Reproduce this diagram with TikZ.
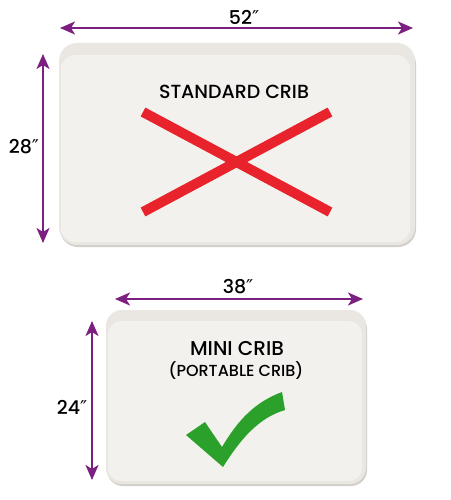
\documentclass[tikz,border=0pt]{standalone}
\usepackage{fontspec}
\setmainfont{Poppins}[UprightFont=* Medium]
\newfontfamily\symfont{DejaVu Sans}
\usetikzlibrary{arrows.meta}
\definecolor{dimpurple}{HTML}{7B1F80}
\definecolor{boxedge}{HTML}{EAE7E3}
\definecolor{boxface}{HTML}{F3F1EE}
\definecolor{boxshadow}{HTML}{D3D0CB}
\definecolor{xred}{HTML}{E8232B}
\definecolor{okgreen}{HTML}{2BA12B}
\tikzset{
  dimline/.style={draw=dimpurple, line width=2.2pt, {Stealth[length=15pt,width=13pt,inset=4pt]}-{Stealth[length=15pt,width=13pt,inset=4pt]}},
  dimlabel/.style={font=\fontsize{19}{19}\selectfont, text=black, inner sep=0pt},
  cribtext/.style={font=\fontsize{19}{19}\selectfont, text=black, inner sep=0pt},
  xbar/.style={draw=xred, line width=10pt, line cap=butt},
}
\newcommand{\dq}{{\symfont\char"2033}}
\begin{document}
\begin{tikzpicture}[x=1pt,y=-1pt]
\useasboundingbox[fill=white] (0,0) rectangle (450,500);
% top crib
\fill[boxshadow,rounded corners=18pt] (60,46) rectangle (416,247);
\fill[boxedge,rounded corners=18pt] (59,43) rectangle (415,245);
\fill[boxface,rounded corners=14pt] (61,55) rectangle (410,242);
% bottom crib
\fill[boxshadow,rounded corners=16pt] (107,313) rectangle (367,486);
\fill[boxedge,rounded corners=16pt] (106,310) rectangle (366,484);
\fill[boxface,rounded corners=13pt] (108,321) rectangle (362,481);
% dimension ends
\coordinate (t1) at (60,28); \coordinate (t2) at (413,28);
\coordinate (l1) at (43,54); \coordinate (l2) at (43,243);
\coordinate (b1) at (115,299); \coordinate (b2) at (363,299);
\coordinate (m1) at (92,321); \coordinate (m2) at (92,480);
\draw[dimline] (t1) -- (t2);
\draw[dimline] (l1) -- (l2);
\draw[dimline] (b1) -- (b2);
\draw[dimline] (m1) -- (m2);
\node[dimlabel] (w52) at (244,17) {52\dq};
\node[dimlabel] (h28) at (24,147) {28\dq};
\node[dimlabel] (w38) at (238,287) {38\dq};
\node[dimlabel] (h24) at (72,407) {24\dq};
% texts
\node[cribtext] (std) at (234,92) {STANDARD CRIB};
\node[cribtext,font=\fontsize{20}{20}\selectfont] (mini) at (237,349) {MINI CRIB};
\node[cribtext,font=\fontsize{16}{16}\selectfont] (port) at (236,371) {(PORTABLE CRIB)};
% red X
\coordinate (xa) at (143,112); \coordinate (xb) at (330,212);
\coordinate (xc) at (143,212); \coordinate (xd) at (330,112);
\draw[xbar] (xa) -- (xb);
\draw[xbar] (xc) -- (xd);
% check mark
\fill[okgreen] (186,435) -- (205,422) -- (222,447)
  .. controls (238,420) and (255,402) .. (282,392)
  -- (285,410)
  .. controls (258,418) and (240,440) .. (223,467) -- cycle;
\end{tikzpicture}
\end{document}
